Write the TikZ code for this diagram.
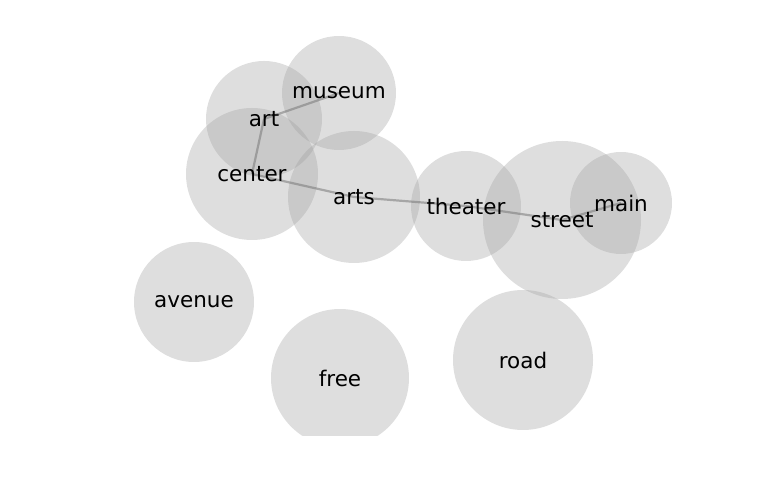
\documentclass[tikz,border=0pt]{standalone}
\usepackage{fontspec}
\setmainfont{DejaVu Sans}
\usepackage{tikz}
\usetikzlibrary{shapes}
\definecolor{blobgray}{RGB}{156,156,156}
\definecolor{linkgray}{RGB}{120,120,120}
\newcommand{\linkw}{2.2pt}
\newcommand{\wordsize}{\fontsize{21.5}{26}\selectfont}
\tikzset{
  blob/.style = {circle, draw = none, fill = blobgray, fill opacity = 0.33, inner sep = 0pt},
  word/.style = {inner sep = 0pt, font = \wordsize, text = black},
  link/.style = {draw = linkgray, line width = \linkw, opacity = 0.55}
}
\begin{document}
\begin{tikzpicture}[x = 1pt, y = 1pt]
        %\draw[help lines] (0,0) grid (768,500);
        \useasboundingbox (0,0) rectangle (768,500);
        \begin{scope}
            \clip (0,64) rectangle (768,500);
            \foreach \name/\x/\y/\r in {art/264/381/58, museum/339/407/57, center/252/326/66,
                    arts/354/303/66, theater/466/294/55, street/562/280/79, main/621/297/51,
                    avenue/194/198/60, free/340/122/69, road/523/140/70}
                \node[blob, minimum size = \r*2pt] (b-\name) at (\x,\y) {};
        \end{scope}
        \foreach \name/\x/\y in {art/264/381, museum/339/407, center/252/326, arts/354/303,
                theater/466/294, street/562/280, main/621/297, avenue/194/198,
                free/340/122, road/523/140}
            \coordinate (p-\name) at (\x,\y);
        \foreach \a/\b in {art/museum, art/center, center/arts, arts/theater,
                theater/street, street/main}
            \draw[link] (p-\a) -- (p-\b);
        \foreach \name in {art, museum, center, arts, theater, street, main, avenue, free, road}
            \node[word] (\name) at (p-\name) {\name};
\end{tikzpicture}
\end{document}
